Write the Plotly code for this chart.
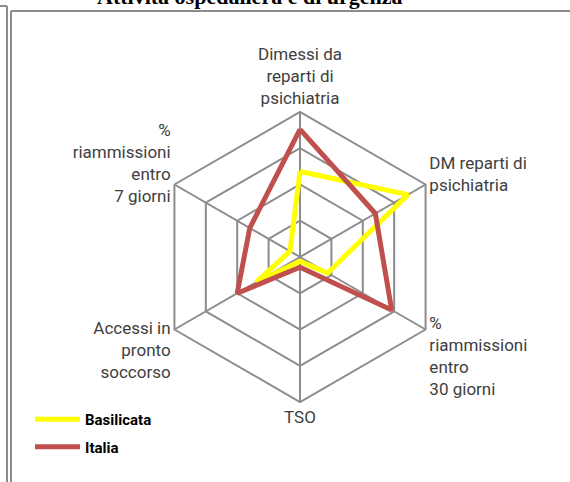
import plotly.graph_objects as go

# axes of the radar, clockwise from the top
categories = [
    "Dimessi da<br>reparti di<br>psichiatria",
    "DM reparti di<br>psichiatria",
    "%<br>riammissioni<br>entro<br>30 giorni",
    "TSO",
    "Accessi in<br>pronto<br>soccorso",
    "%<br>riammissioni<br>entro<br>7 giorni",
]

# values, on a 0-100 scale (outer ring = 100)
basilicata = [59, 86, 22, 3, 35, 8]
italia = [88, 60, 73, 7, 50, 40]

ring_ticks = [25, 50, 75, 100]

W, H = 570, 482
cx, cy, R = 300, 257, 145  # pixel centre and radius of the radar

label_font = "Liberation Sans Narrow, Roboto, sans-serif"
grid = "#8c8c8c"


def closed(values):
    return values + values[:1]


fig = go.Figure()

fig.add_trace(go.Scatterpolar(
    r=closed(basilicata),
    theta=closed(categories),
    mode="lines",
    name="Basilicata",
    legendgroup="b",
    line=dict(color="#FFFF00", width=5),
))

fig.add_trace(go.Scatterpolar(
    r=closed(italia),
    theta=closed(categories),
    mode="lines",
    name="Italia",
    legendgroup="i",
    line=dict(color="#C0504D", width=5),
))

fig.update_layout(
    width=W,
    height=H,
    margin=dict(l=0, r=0, t=0, b=0),
    paper_bgcolor="white",
    plot_bgcolor="white",
    showlegend=True,
    legend=dict(
        x=30 / W, y=1 - 403 / H,
        xanchor="left", yanchor="top",
        font=dict(family=label_font, size=15, color="#000000", weight="bold"),
        bgcolor="rgba(0,0,0,0)",
        itemwidth=45,
        traceorder="grouped",
        tracegroupgap=5,
    ),
    polar=dict(
        domain=dict(
            x=[(cx - R) / W, (cx + R) / W],
            y=[(H - cy - R) / H, (H - cy + R) / H],
        ),
        gridshape="linear",
        bgcolor="white",
        radialaxis=dict(
            range=[0, 100],
            tickvals=ring_ticks,
            showticklabels=False,
            ticks="",
            showline=False,
            gridcolor=grid,
            gridwidth=2,
        ),
        angularaxis=dict(
            rotation=90,
            direction="clockwise",
            showline=True,
            linecolor=grid,
            linewidth=2,
            gridcolor=grid,
            gridwidth=2,
            ticks="",
            tickfont=dict(family=label_font, size=17, color="#404040"),
        ),
    ),
    annotations=[dict(
        text="<b>Attività ospedaliera e di urgenza</b>",
        x=250 / W, y=1 - 10 / H,
        xref="paper", yref="paper",
        xanchor="center", yanchor="bottom",
        showarrow=False,
        borderpad=0,
        font=dict(family="Liberation Serif, Times New Roman, serif", size=22, color="#000000"),
    )],
    shapes=[
        # outer border (left) and its short top stub
        dict(type="line", xref="paper", yref="paper",
             x0=7 / W, x1=7 / W, y0=0, y1=1 - 6 / H,
             line=dict(color=grid, width=2)),
        dict(type="line", xref="paper", yref="paper",
             x0=0, x1=7 / W, y0=1 - 6 / H, y1=1 - 6 / H,
             line=dict(color=grid, width=2)),
        # inner border
        dict(type="line", xref="paper", yref="paper",
             x0=11 / W, x1=11 / W, y0=0, y1=1 - 11 / H,
             line=dict(color=grid, width=2)),
        dict(type="line", xref="paper", yref="paper",
             x0=11 / W, x1=1, y0=1 - 11 / H, y1=1 - 11 / H,
             line=dict(color=grid, width=2)),
    ],
)

# drop the browser's default body margin so the figure sits at the page corner
fig.write_html(
    "out.html",
    config={"displayModeBar": False},
    post_script="document.body.style.margin = '0';",
)
